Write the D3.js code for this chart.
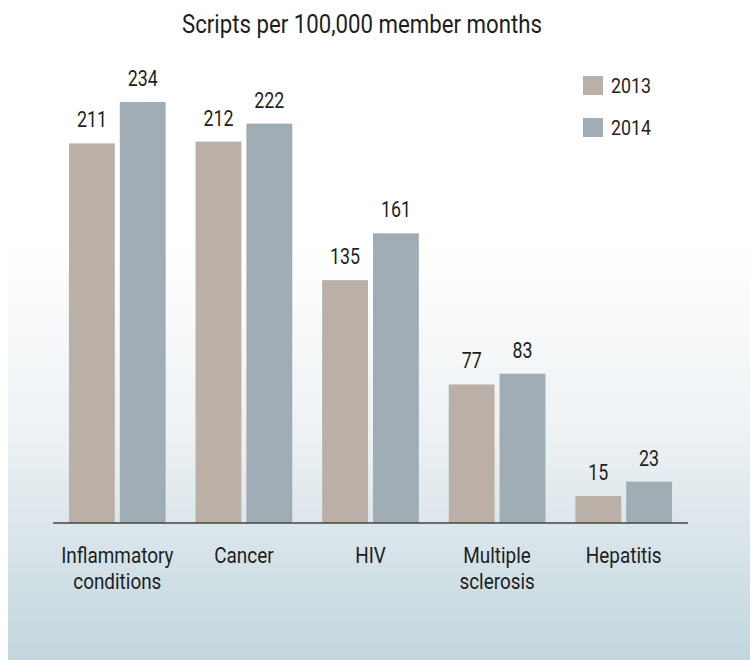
<!DOCTYPE html>
<html>
<head>
<meta charset="utf-8">
<script src="https://cdn.jsdelivr.net/npm/d3@7"></script>
<style>
  body { margin: 0; background: #fff; }
  svg text { font-family: Roboto, "Liberation Sans", sans-serif; fill: #1e1e1e; }
</style>
</head>
<body>
<div id="chart"></div>
<script>
// DATA
const categories = [["Inflammatory", "conditions"], ["Cancer"], ["HIV"], ["Multiple", "sclerosis"], ["Hepatitis"]];
const years = ["2013", "2014"];
const values2013 = [211, 212, 135, 77, 15];
const values2014 = [234, 222, 161, 83, 23];
const title = "Scripts per 100,000 member months";

// DIMENSIONS
const WIDTH = 750;
const HEIGHT = 660;
const BASELINE = 523;
const TOP = 102;
const colors = ["#bbb0a7", "#a1adb5"];

const svg = d3.select("#chart").append("svg")
  .attr("width", WIDTH)
  .attr("height", HEIGHT);

// place text at x,y and squeeze it sideways (condensed look)
const place = (sel, fx, fy, sx = 0.85) => sel
  .attr("transform", (d, i) => `translate(${fx(d, i)},${fy(d, i)}) scale(${sx},1)`);

// background gradient
const grad = svg.append("defs").append("linearGradient")
  .attr("id", "bg").attr("x1", 0).attr("y1", 0).attr("x2", 0).attr("y2", 1);
grad.append("stop").attr("offset", "0%").attr("stop-color", "#ffffff");
grad.append("stop").attr("offset", "45%").attr("stop-color", "#eef2f4");
grad.append("stop").attr("offset", "100%").attr("stop-color", "#c2d6de");

svg.append("rect")
  .attr("x", 8).attr("y", 240)
  .attr("width", WIDTH - 8).attr("height", HEIGHT - 240)
  .attr("fill", "url(#bg)");

// SCALES
const keys = categories.map(d => d.join(" "));
const x0 = d3.scaleBand()
  .domain(keys)
  .range([53, 688])
  .paddingInner(0.236)
  .paddingOuter(0.126);

const x1 = d3.scaleBand()
  .domain(years)
  .range([0, x0.bandwidth()])
  .paddingInner(0.098);

const y = d3.scaleLinear()
  .domain([0, d3.max(values2014)])
  .range([BASELINE, TOP]);

const rows = keys.map((k, i) => ({
  key: k,
  lines: categories[i],
  vals: [values2013[i], values2014[i]]
}));

// title
svg.append("text")
  .attr("text-anchor", "middle")
  .style("font-size", "26px")
  .call(place, () => 362, () => 32.5, 0.855)
  .text(title);

// bars
const groups = svg.selectAll("g.group")
  .data(rows)
  .join("g")
  .attr("class", "group")
  .attr("transform", d => `translate(${x0(d.key)},0)`);

groups.selectAll("rect")
  .data(d => d.vals.map((v, j) => ({year: years[j], value: v, j})))
  .join("rect")
  .attr("x", d => x1(d.year))
  .attr("y", d => y(d.value))
  .attr("width", x1.bandwidth())
  .attr("height", d => BASELINE - y(d.value))
  .attr("fill", d => colors[d.j]);

groups.selectAll("text.value")
  .data(d => d.vals.map((v, j) => ({year: years[j], value: v})))
  .join("text")
  .attr("class", "value")
  .attr("text-anchor", "middle")
  .style("font-size", "22px")
  .call(place, d => x1(d.year) + x1.bandwidth() / 2, d => y(d.value) - 16, 0.81)
  .text(d => d.value);

// axis line
svg.append("line")
  .attr("x1", x0.range()[0]).attr("x2", x0.range()[1])
  .attr("y1", BASELINE).attr("y2", BASELINE)
  .attr("stroke", "#444").attr("stroke-width", 1.5);

// category labels, one text per line
svg.selectAll("text.cat")
  .data(rows.flatMap(r => r.lines.map((l, i) => ({key: r.key, l, i}))))
  .join("text")
  .attr("class", "cat")
  .attr("text-anchor", "middle")
  .style("font-size", "22px")
  .call(place, d => x0(d.key) + x0.bandwidth() / 2, d => 563 + d.i * 25.5, 0.86)
  .text(d => d.l);

// legend
const legend = svg.selectAll("g.legend")
  .data(years)
  .join("g")
  .attr("class", "legend")
  .attr("transform", (_, i) => `translate(583,${76 + i * 42})`);

legend.append("rect")
  .attr("width", 20).attr("height", 19)
  .attr("fill", (_, i) => colors[i]);

legend.append("text")
  .style("font-size", "21px")
  .call(place, () => 28, () => 17)
  .text(d => d);
</script>
</body>
</html>
